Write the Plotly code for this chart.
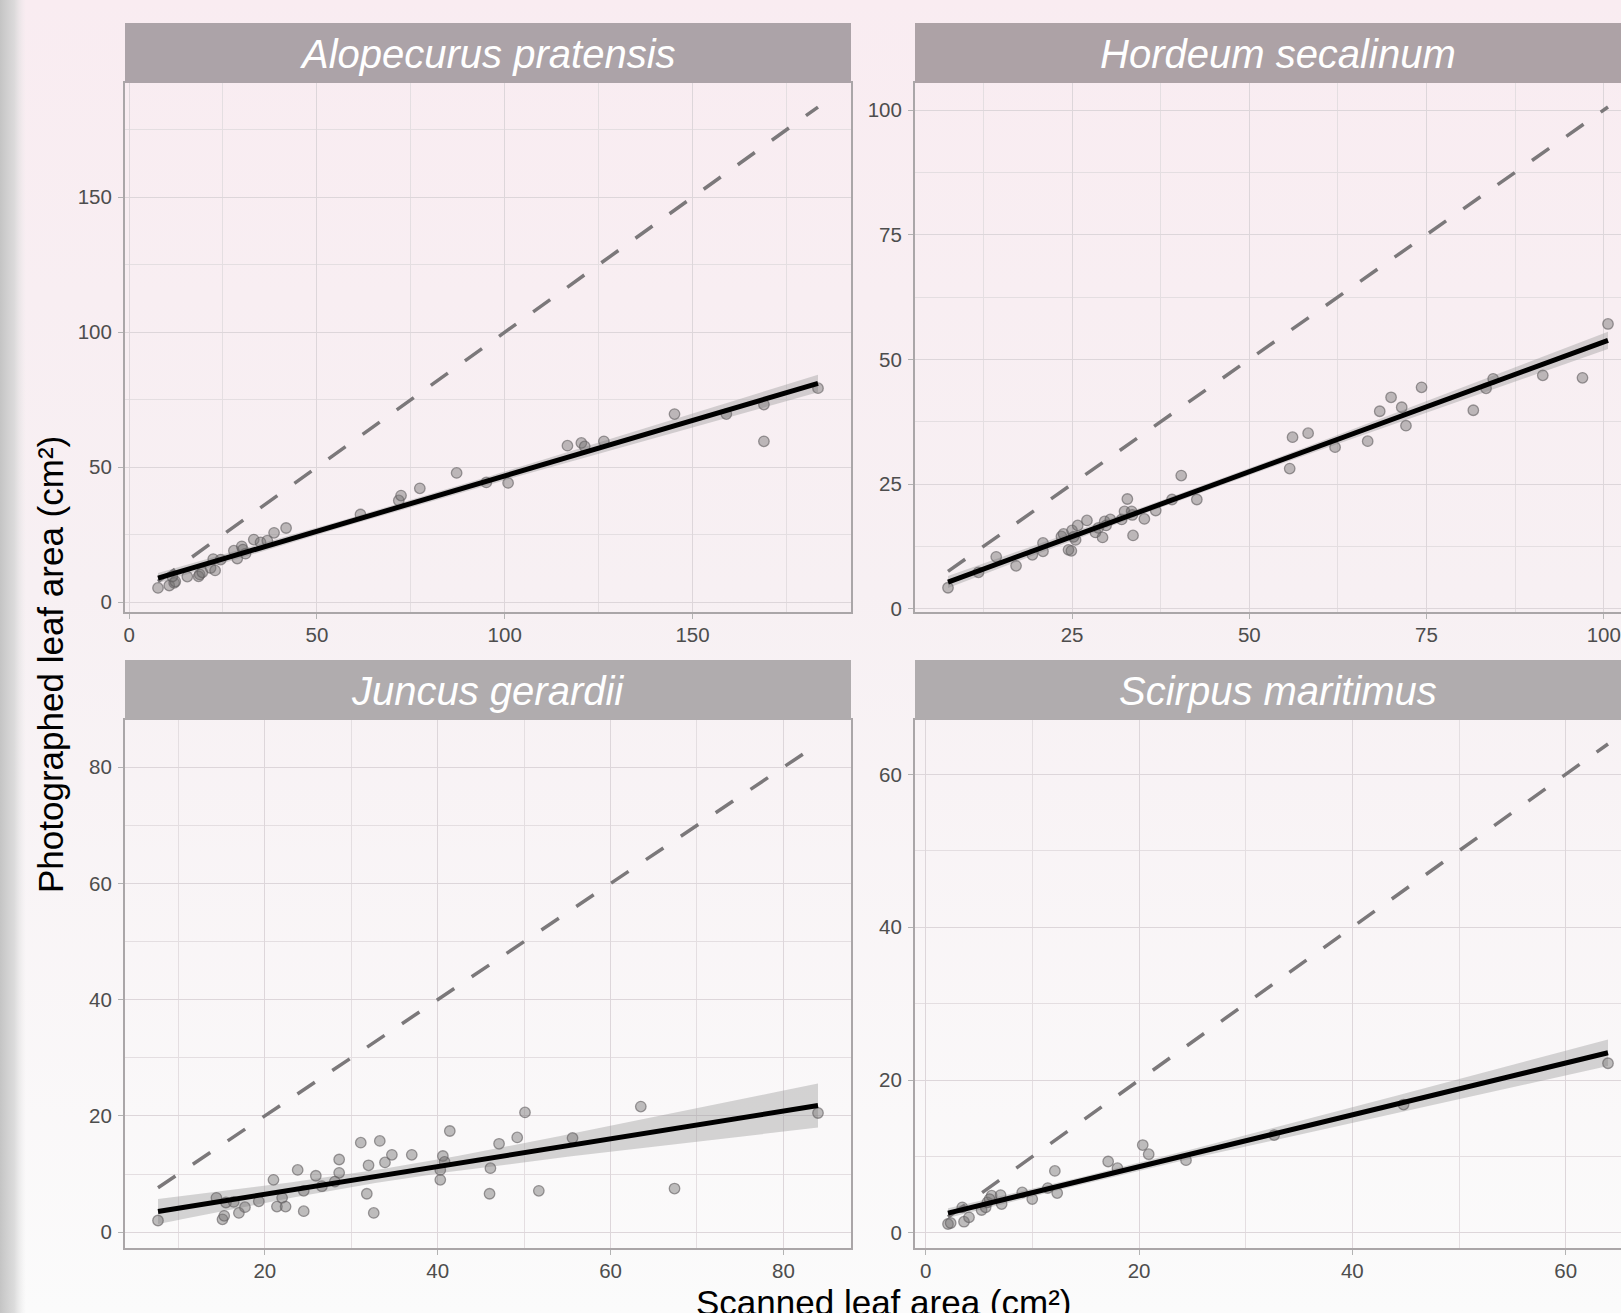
import base64
import numpy as np
import plotly.graph_objects as go

# ---------------- data ----------------
species = ["Alopecurus pratensis", "Hordeum secalinum", "Juncus gerardii", "Scirpus maritimus"]

ap_x = [7.7, 10.7, 12.0, 12.3, 11.5, 15.5, 18.8, 18.5, 19.5, 21.7, 22.4, 22.9, 24.4, 27.9, 28.8, 30.0,
        31.0, 30.3, 33.2, 35.0, 36.8, 38.6, 41.8, 61.6, 71.8, 72.4, 77.4, 87.2, 95.1, 100.9, 116.7,
        120.4, 121.3, 126.4, 145.2, 159.0, 169.0, 169.0, 183.4]
ap_y = [5.3, 6.2, 7.2, 7.7, 9.5, 9.5, 10.3, 9.6, 11.1, 12.7, 16.0, 11.8, 15.8, 19.1, 16.2, 20.7,
        18.0, 19.5, 23.2, 22.2, 22.8, 25.7, 27.5, 32.5, 37.7, 39.5, 42.2, 47.9, 44.4, 44.2, 58.0,
        59.0, 57.7, 59.6, 69.7, 69.7, 73.2, 59.6, 79.3]

hs_x = [7.5, 11.8, 14.3, 17.1, 19.4, 20.9, 20.9, 23.5, 23.8, 24.5, 24.9, 25.0, 25.5, 25.2, 25.8, 27.1,
        28.3, 28.7, 29.3, 29.6, 29.8, 30.4, 32.0, 32.4, 32.8, 33.4, 33.5, 33.6, 35.2, 36.8, 39.1,
        40.4, 42.6, 55.7, 56.1, 58.3, 62.1, 66.7, 68.4, 70.0, 71.5, 72.1, 74.3, 81.6, 83.4, 84.4,
        91.4, 97.0, 100.6]
hs_y = [4.2, 7.3, 10.4, 8.6, 10.8, 11.5, 13.2, 14.5, 15.0, 11.8, 11.6, 15.7, 13.8, 14.4, 16.7, 17.7,
        15.3, 16.2, 14.3, 17.5, 16.7, 17.9, 17.9, 19.5, 22.0, 19.5, 18.8, 14.7, 18.0, 19.7, 21.9,
        26.7, 21.9, 28.1, 34.4, 35.2, 32.4, 33.6, 39.6, 42.4, 40.4, 36.7, 44.4, 39.8, 44.2, 46.1,
        46.8, 46.3, 57.1]

jg_x = [7.64, 14.4, 15.1, 15.3, 15.5, 16.4, 17.0, 17.7, 19.3, 21.0, 21.4, 22.0, 22.4, 23.8, 24.5,
        24.5, 25.9, 26.6, 28.1, 28.6, 28.6, 31.1, 32.0, 31.8, 32.6, 33.3, 33.9, 34.7, 37.0, 40.3,
        40.3, 40.6, 40.8, 41.4, 46.0, 46.1, 47.1, 49.2, 50.1, 51.7, 55.6, 63.5, 67.4, 84.0]
jg_y = [2.0, 5.9, 2.2, 2.8, 5.1, 5.2, 3.3, 4.3, 5.3, 9.0, 4.4, 5.9, 4.4, 10.7, 7.1,
        3.6, 9.7, 7.9, 8.7, 12.5, 10.2, 15.4, 11.5, 6.6, 3.3, 15.7, 12.0, 13.3, 13.3, 10.7,
        9.0, 13.1, 12.1, 17.4, 6.6, 11.0, 15.2, 16.3, 20.6, 7.1, 16.2, 21.6, 7.5, 20.5]

sm_x = [2.08, 2.33, 3.58, 4.05, 3.42, 5.23, 5.61, 5.77, 6.17, 5.98, 7.01, 7.11, 9.04, 9.98, 11.44,
        12.10, 12.32, 17.10, 17.97, 20.34, 20.90, 24.4, 32.67, 44.8, 63.97]
sm_y = [1.17, 1.30, 1.47, 2.04, 3.35, 3.0, 3.35, 4.0, 4.87, 4.43, 4.95, 3.78, 5.3, 4.43, 5.87,
        8.12, 5.22, 9.35, 8.47, 11.5, 10.3, 9.52, 12.8, 16.8, 22.2]

x_dticks = [50, 25, 20, 20]
y_dticks = [50, 25, 20, 20]

x_title = "Scanned leaf area (cm²)"
y_title = "Photographed leaf area (cm²)"

# ---------------- geometry ----------------
W, H = 1621, 1313
COLS = [(125, 851), (915, 1641)]
ROWS = [(23, 83, 612), (660, 720, 1248)]
STRIP_COLORS = [["#aca3a8", "#ada2a6"], ["#b0acae", "#b0acae"]]
FONT = "Liberation Sans, Arial, Helvetica, sans-serif"


def tq(df, z=1.959964):
    return (z + (z**3 + z) / (4 * df) + (5 * z**5 + 16 * z**3 + 3 * z) / (96 * df**2)
            + (3 * z**7 + 19 * z**5 + 17 * z**3 - 15 * z) / (384 * df**3))


def lm_band(x, y, n=80):
    x = np.asarray(x, float)
    y = np.asarray(y, float)
    b1, b0 = np.polyfit(x, y, 1)
    xs = np.linspace(x.min(), x.max(), n)
    fit = b0 + b1 * xs
    df = len(x) - 2
    s = np.sqrt(np.sum((y - (b0 + b1 * x)) ** 2) / df)
    sxx = np.sum((x - x.mean()) ** 2)
    se = s * np.sqrt(1 / len(x) + (xs - x.mean()) ** 2 / sxx)
    t = tq(df)
    return xs, fit, fit - t * se, fit + t * se


data = [(ap_x, ap_y), (hs_x, hs_y), (jg_x, jg_y), (sm_x, sm_y)]

fig = go.Figure()
layout = dict(
    width=W, height=H, autosize=False,
    margin=dict(l=0, r=0, t=0, b=0, pad=0),
    paper_bgcolor="white", plot_bgcolor="rgba(0,0,0,0)",
    showlegend=False, font=dict(family=FONT),
)
shapes, annotations = [], []

for i, (name, (xv, yv)) in enumerate(zip(species, data)):
    r, c = divmod(i, 2)
    cx0, cx1 = COLS[c]
    st, pt, pb = ROWS[r]
    xs, fit, lo, hi = lm_band(xv, yv)
    xmin, xmax = min(xv), max(xv)
    xr = [xmin - 0.05 * (xmax - xmin), xmax + 0.05 * (xmax - xmin)]
    ylo = min(min(yv), lo.min(), xmin)
    yhi = max(max(yv), hi.max(), xmax)
    yr = [ylo - 0.05 * (yhi - ylo), yhi + 0.05 * (yhi - ylo)]
    vis_x1 = min(cx1, W)
    if cx1 > W:
        f = (W - cx0) / (cx1 - cx0)
        xr = [xr[0], xr[0] + f * (xr[1] - xr[0])]
    sfx = "" if i == 0 else str(i + 1)
    xa, ya = "x" + sfx, "y" + sfx

    grid = dict(showgrid=True, gridcolor="#ddd6da", gridwidth=1.4, zeroline=False,
                automargin=False,
                ticks="outside", ticklen=5, tickwidth=1.4, tickcolor="#b3b3b3",
                tickfont=dict(family=FONT, size=20.5, color="#4d4d4d"),
                showline=True, linecolor="#aaa6a8", linewidth=2, tick0=0)
    layout["xaxis" + sfx] = dict(grid, domain=[cx0 / W, vis_x1 / W], range=xr, anchor=ya,
                                 dtick=x_dticks[i], mirror=True, ticklabelstandoff=-2,
                                 minor=dict(dtick=x_dticks[i] / 2, tick0=0, showgrid=True,
                                            gridcolor="#e4dee1", gridwidth=1))
    layout["yaxis" + sfx] = dict(grid, domain=[1 - pb / H, 1 - pt / H], range=yr, anchor=xa,
                                 dtick=y_dticks[i], mirror=(c == 0), ticklabelstandoff=2,
                                 minor=dict(dtick=y_dticks[i] / 2, tick0=0, showgrid=True,
                                            gridcolor="#e4dee1", gridwidth=1))

    fig.add_trace(go.Scatter(x=np.concatenate([xs, xs[::-1]]), y=np.concatenate([hi, lo[::-1]]),
                             fill="toself", fillcolor="rgba(153,153,153,0.4)",
                             line=dict(width=0), mode="lines", hoverinfo="skip",
                             xaxis=xa, yaxis=ya))
    fig.add_trace(go.Scatter(x=xv, y=yv, mode="markers",
                             marker=dict(size=10.5, color="rgba(115,112,114,0.45)",
                                         line=dict(color="rgba(95,92,94,0.6)", width=1.3)),
                             xaxis=xa, yaxis=ya))
    fig.add_trace(go.Scatter(x=[xmin, xmax], y=[xmin, xmax], mode="lines",
                             line=dict(color="#7b787a", width=3.5, dash="21px,21px"),
                             xaxis=xa, yaxis=ya))
    fig.add_trace(go.Scatter(x=xs, y=fit, mode="lines", line=dict(color="black", width=5),
                             xaxis=xa, yaxis=ya))

    shapes.append(dict(type="rect", xref="paper", yref="paper", x0=cx0 / W, x1=vis_x1 / W,
                       y0=1 - pt / H, y1=1 - st / H, fillcolor=STRIP_COLORS[r][c],
                       line=dict(width=0), layer="above"))
    annotations.append(dict(xref="paper", yref="paper", x=((cx0 + cx1) / 2) / W,
                            y=1 - ((st + pt) / 2 + 1) / H, text="<i>" + name + "</i>",
                            showarrow=False, xanchor="center", yanchor="middle",
                            font=dict(family=FONT, size=40, color="white")))

annotations.append(dict(xref="paper", yref="paper", x=883 / W, y=1 - 1302 / H, text=x_title,
                        showarrow=False, xanchor="center", yanchor="middle",
                        font=dict(family=FONT, size=35, color="black")))
annotations.append(dict(xref="paper", yref="paper", x=50 / W, y=1 - 665 / H, text=y_title,
                        textangle=-90, showarrow=False, xanchor="center", yanchor="middle",
                        font=dict(family=FONT, size=35, color="black")))

svg = f"""<svg xmlns='http://www.w3.org/2000/svg' width='{W}' height='{H}' viewBox='0 0 {W} {H}' preserveAspectRatio='none'>
<defs>
<linearGradient id='v' x1='0' y1='0' x2='0' y2='1'>
<stop offset='0' stop-color='#f9ecf1'/>
<stop offset='0.45' stop-color='#f7f0f3'/>
<stop offset='1' stop-color='#fbfbfb'/>
</linearGradient>
<linearGradient id='h' x1='0' y1='0' x2='1' y2='0'>
<stop offset='0' stop-color='#c4c4c4' stop-opacity='1'/>
<stop offset='0.55' stop-color='#d6d6d6' stop-opacity='0.85'/>
<stop offset='1' stop-color='#e6e6e6' stop-opacity='0'/>
</linearGradient>
</defs>
<rect x='0' y='0' width='{W}' height='{H}' fill='url(#v)'/>
<rect x='0' y='0' width='26' height='{H}' fill='url(#h)'/>
</svg>"""
src = "data:image/svg+xml;base64," + base64.b64encode(svg.encode()).decode()
layout["images"] = [dict(source=src, xref="paper", yref="paper", x=0, y=1, sizex=1, sizey=1,
                         xanchor="left", yanchor="top", sizing="stretch", layer="below")]
layout["shapes"] = shapes
layout["annotations"] = annotations
fig.update_layout(**layout)

fig.write_html("out.html", config={"displayModeBar": False, "responsive": False},
               post_script="document.body.style.margin='0';document.body.style.overflow='hidden';")
